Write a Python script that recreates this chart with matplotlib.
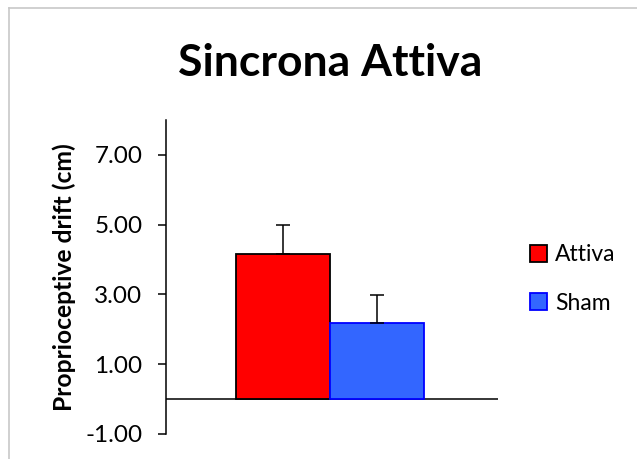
import matplotlib
matplotlib.use("Agg")
import matplotlib.pyplot as plt
from matplotlib.lines import Line2D
from matplotlib.patches import Patch

plt.rcParams['font.family'] = ['Lato', 'DejaVu Sans']

# group means and upper error (SD) for the synchronous active condition
groups = ["Attiva", "Sham"]
means = [4.17, 2.17]
errors = [0.81, 0.80]
colors = ["#FF0000", "#3366FF"]
edges = ["#000000", "#0000FF"]
yticks = [-1, 1, 3, 5, 7]

fig = plt.figure(figsize=(6.37, 4.59), dpi=100)
ax = fig.add_axes([0.2606, 0.0545, 0.5212, 0.6841])

width = 0.283
xs = [0.494 - width / 2, 0.494 + width / 2]
for x, m, e, c, ec, name in zip(xs, means, errors, colors, edges, groups):
    ax.bar(x, m, width=width, color=c, edgecolor=ec, linewidth=1.3, label=name, zorder=2)
    ax.errorbar(x, m, yerr=[[0], [e]], fmt="none", ecolor="black", elinewidth=1.1,
                capsize=5, capthick=1.1, zorder=3)

ax.axhline(0, color="black", linewidth=1.1, zorder=1)
ax.set_xlim(0, 1)
ax.set_ylim(-1, 8)
ax.set_yticks(yticks)
ax.set_yticklabels([f"{v:.2f}" for v in yticks], fontsize=17.5)
ax.set_xticks([])
for side in ["top", "right", "bottom"]:
    ax.spines[side].set_visible(False)
ax.spines["left"].set_linewidth(1.1)
ax.tick_params(axis="y", direction="out", length=6, width=1.1, pad=11)
ax.set_ylabel("Proprioceptive drift (cm)", fontsize=17.7, fontweight="bold", labelpad=7)

fig.text(0.518, 0.862, "Sincrona Attiva", ha="center", va="center",
         fontsize=32, fontweight="bold")

handles = [Patch(facecolor=c, edgecolor=ec, linewidth=1.3) for c, ec in zip(colors, edges)]
fig.legend(handles, groups, loc="center left", bbox_to_anchor=(0.832, 0.392),
           frameon=False, fontsize=16.5, handlelength=0.75, handleheight=0.75,
           handletextpad=0.35, labelspacing=1.2, borderaxespad=0, borderpad=0)

# chart frame
fig.add_artist(Line2D([9 / 637, 1], [1 - 8 / 459, 1 - 8 / 459], color="#C8C8C8", linewidth=1.2))
fig.add_artist(Line2D([9 / 637, 9 / 637], [0, 1 - 8 / 459], color="#C8C8C8", linewidth=1.2))

fig.savefig("out.png", dpi=100)
